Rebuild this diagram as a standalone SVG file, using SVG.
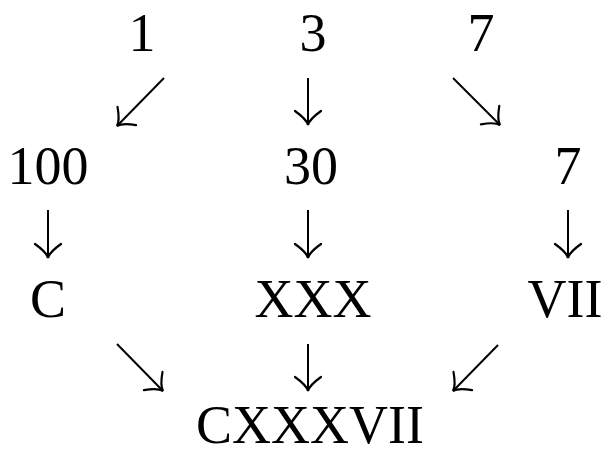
<svg xmlns="http://www.w3.org/2000/svg" width="608" height="450" viewBox="0 0 608 450">
<style>
text{font-family:"Liberation Serif","DejaVu Serif",serif;font-size:54px;fill:#000;text-anchor:middle}
.c line{stroke:#000;stroke-width:2;marker-end:url(#ah)}
</style>
<defs>
<marker id="ah" markerUnits="userSpaceOnUse" viewBox="-16 -16 32 32" markerWidth="32" markerHeight="32" refX="0" refY="0" orient="auto" overflow="visible">
<path d="M-14,-13 C-9,-6 -4,-1 0,0 C-4,1 -9,6 -14,13" fill="none" stroke="#000" stroke-width="2.2" stroke-linecap="round"/>
</marker>
</defs>
<rect width="608" height="450" fill="#fff"/>
<g id="n1"><text x="142" y="51">1</text></g>
<g id="n3"><text x="313" y="51">3</text></g>
<g id="n7"><text x="481" y="51">7</text></g>
<g id="n100"><text x="48" y="184">100</text></g>
<g id="n30"><text x="311" y="184">30</text></g>
<g id="n7b"><text x="568" y="184">7</text></g>
<g id="nC"><text x="48" y="317">C</text></g>
<g id="nXXX"><text x="313" y="317">XXX</text></g>
<g id="nVII"><text x="565" y="317">VII</text></g>
<g id="nCXXXVII"><text x="310" y="443">CXXXVII</text></g>
<g class="c" id="connectors">
<line x1="164" y1="78" x2="117" y2="126"/>
<line x1="308" y1="78" x2="308" y2="125"/>
<line x1="453" y1="78" x2="500" y2="125"/>
<line x1="48" y1="210" x2="48" y2="258"/>
<line x1="308" y1="210" x2="308" y2="258"/>
<line x1="568" y1="210" x2="568" y2="258"/>
<line x1="117" y1="344" x2="163" y2="391"/>
<line x1="308" y1="344" x2="308" y2="391"/>
<line x1="498" y1="345" x2="453" y2="391"/>
</g>
</svg>
